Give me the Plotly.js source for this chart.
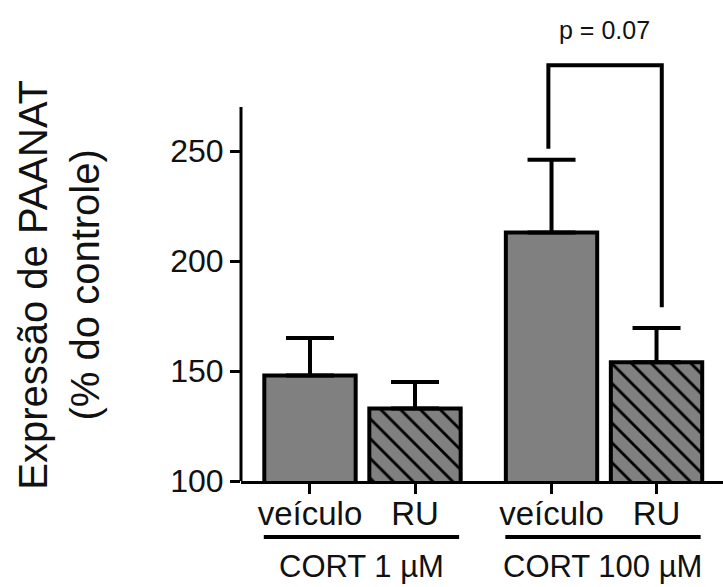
<!DOCTYPE html>
<html>
<head>
<meta charset="utf-8">
<script src="https://cdn.plot.ly/plotly-3.0.1.min.js"></script>
<style>html,body{margin:0;padding:0;background:#fff;}#chart{width:723px;height:587px;}</style>
</head>
<body>
<div id="chart"></div>
<script>
// ---- data ----
const groups = ['CORT 1 \u00b5M', 'CORT 100 \u00b5M'];
const treatments = ['veículo', 'RU'];
const veiculoMean = [148, 213];
const veiculoSEM  = [17, 33];
const ruMean      = [133, 154];
const ruSEM       = [12, 15.5];
const pText = 'p = 0.07';
const bracketTop = 289;
const bracketLeftEnd = 251;
const bracketRightEnd = 179;
const axisTop = 270;
const yTicks = [100, 150, 200, 250];

// ---- layout helpers ----
const groupStep = 2.3;
const xOf = (g, t) => g * groupStep + t;
const FONT = 'Liberation Sans, Arial, sans-serif';

const xVeic = groups.map((_, g) => xOf(g, 0));
const xRU = groups.map((_, g) => xOf(g, 1));

const barLine = {color: '#000', width: 4};
const errStyle = (arr) => ({type: 'data', symmetric: false, array: arr, arrayminus: arr.map(() => 0),
  color: '#000', thickness: 4, width: 24});

const traces = [
  {type: 'bar', x: xVeic, y: veiculoMean, width: 0.87, name: 'veículo',
   marker: {color: '#808080', line: barLine}, error_y: errStyle(veiculoSEM), hoverinfo: 'skip'},
  {type: 'bar', x: xRU, y: ruMean, width: 0.87, name: 'RU',
   marker: {color: '#808080', line: barLine,
            pattern: {shape: '\\', fgcolor: '#000', bgcolor: '#808080', size: 14, solidity: 0.2}},
   error_y: errStyle(ruSEM), hoverinfo: 'skip'}
];

const tickvals = [], ticktext = [];
groups.forEach((_, g) => treatments.forEach((t, k) => { tickvals.push(xOf(g, k)); ticktext.push(t); }));

const shapes = [
  {type: 'line', xref: 'paper', yref: 'y', x0: 0, x1: 0, y0: 100, y1: axisTop, line: {color: '#000', width: 3}},
  {type: 'path', xref: 'x', yref: 'y',
   path: `M ${xOf(1,0)-0.03},${bracketLeftEnd} L ${xOf(1,0)-0.03},${bracketTop} L ${xOf(1,1)+0.05},${bracketTop} L ${xOf(1,1)+0.05},${bracketRightEnd}`,
   line: {color: '#000', width: 4}}
];
const annotations = [
  {xref: 'x', yref: 'paper', x: xOf(1, 0.5), y: 1.051, text: pText, showarrow: false,
   font: {family: FONT, size: 25, color: '#111'}, xanchor: 'center', yanchor: 'middle'},
  {xref: 'paper', yref: 'paper', x: -0.378, y: 0.457, textangle: -90, showarrow: false,
   text: 'Expressão de PAANAT<br>(% do controle)', font: {family: FONT, size: 40, color: '#111'},
   xanchor: 'center', yanchor: 'middle'}
];
groups.forEach((gname, g) => {
  const c = xOf(g, 0.5) - 0.01;
  shapes.push({type: 'line', xref: 'x', yref: 'paper', x0: c - 0.93, x1: c + 0.93, y0: -0.1305, y1: -0.1305,
    line: {color: '#000', width: 4}});
  annotations.push({xref: 'x', yref: 'paper', x: c, y: -0.2, text: gname, showarrow: false,
    font: {family: FONT, size: 31, color: '#111'}, xanchor: 'center', yanchor: 'middle'});
});

const layout = {
  width: 723, height: 587,
  margin: {l: 241, r: 0, t: 52, b: 106, pad: 0},
  paper_bgcolor: '#fff', plot_bgcolor: '#fff',
  showlegend: false,
  xaxis: {range: [-0.657, 3.933], tickvals: tickvals, ticktext: ticktext,
          ticks: 'outside', ticklen: 10, tickwidth: 3, tickcolor: '#000',
          showline: true, linewidth: 3, linecolor: '#000', showgrid: false, zeroline: false,
          ticklabelstandoff: -9,
          tickfont: {family: FONT, size: 33, color: '#111'}, fixedrange: true},
  yaxis: {range: [100, 295], tickvals: yTicks, ticks: 'outside', ticklen: 10, tickwidth: 3, tickcolor: '#000',
          showline: false, showgrid: false, zeroline: false,
          tickfont: {family: FONT, size: 32, color: '#111'}, fixedrange: true},
  shapes: shapes,
  annotations: annotations
};

Plotly.newPlot('chart', traces, layout, {staticPlot: true});
</script>
</body>
</html>
